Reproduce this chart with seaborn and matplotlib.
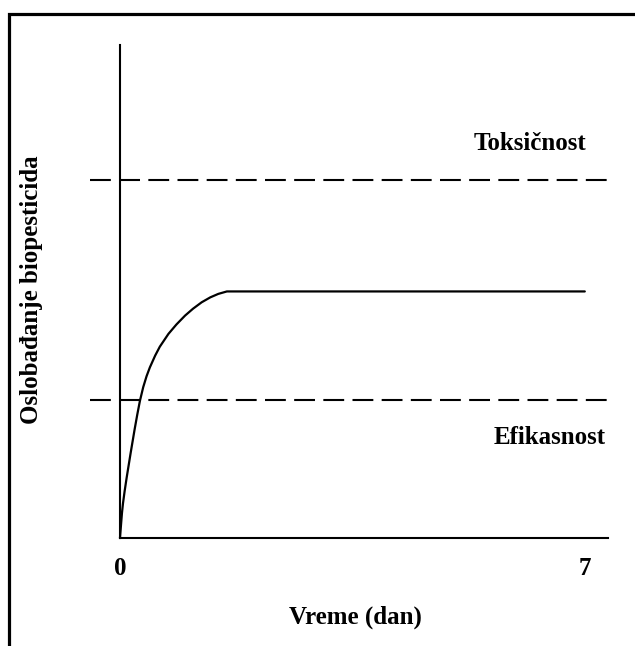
import matplotlib
matplotlib.use("Agg")
import matplotlib.pyplot as plt
import seaborn as sns
from matplotlib.patches import Rectangle

# release curve (time in days, release in arbitrary units)
vreme = [0, 0.015, 0.03, 0.045, 0.07, 0.10, 0.16, 0.22, 0.26, 0.30, 0.35, 0.40,
         0.45, 0.53, 0.60, 0.73, 0.85, 0.98, 1.10, 1.23, 1.36, 1.48, 1.61, 7.0]
oslobadjanje = [0, 0.26, 0.51, 0.70, 0.95, 1.22, 1.72, 2.20, 2.50, 2.78, 3.06, 3.28,
                3.46, 3.70, 3.88, 4.14, 4.33, 4.51, 4.65, 4.78, 4.88, 4.95, 5.0, 5.0]

# threshold levels
toksicnost = 7.25
efikasnost = 2.8

x_ticks = [0, 7]
x_tick_labels = ["0", "7"]

sns.set_style("white")
plt.rcParams['font.family'] = ['Liberation Serif', 'DejaVu Serif']
plt.rcParams['text.color'] = 'black'
plt.rcParams['axes.labelcolor'] = 'black'
plt.rcParams['xtick.color'] = 'black'

fig = plt.figure(figsize=(6.35, 6.46), dpi=100)
ax = fig.add_axes([0, 0, 1, 1])

sns.lineplot(x=vreme, y=oslobadjanje, color="black", linewidth=1.6, ax=ax,
             estimator=None, sort=False)

# dashed lines for toxicity and efficacy
ax.hlines([toksicnost, efikasnost], -0.45, 7.33, colors="black",
          linewidth=1.5, linestyles=(0, (10, 4)))

ax.set_xlim(-1.807, 7.756)
ax.set_ylim(-2.19, 10.91)

# axes drawn as spines through the origin
for s in ["top", "right"]:
    ax.spines[s].set_visible(False)
ax.spines["left"].set_position(("data", 0))
ax.spines["bottom"].set_position(("data", 0))
ax.spines["left"].set_bounds(0, 10)
ax.spines["bottom"].set_bounds(0, 7.35)
for s in ["left", "bottom"]:
    ax.spines[s].set_linewidth(1.5)
    ax.spines[s].set_color("black")

fs = 18
ax.set_xticks(x_ticks)
ax.set_xticklabels(x_tick_labels, fontsize=fs, fontweight="bold")
ax.set_yticks([])
ax.tick_params(axis="x", length=0, pad=14)

ax.set_xlabel("Vreme (dan)", fontsize=fs, fontweight="bold")
ax.xaxis.set_label_coords(0.559, 0.063)
ax.set_ylabel("Oslobađanje biopesticida", fontsize=fs, fontweight="bold")
ax.yaxis.set_label_coords(0.068, 0.551)

ax.text(6.18, toksicnost + 0.75, "Toksičnost", fontsize=fs, fontweight="bold",
        ha="center", va="center")
ax.text(6.47, efikasnost - 0.77, "Efikasnost", fontsize=fs, fontweight="bold",
        ha="center", va="center")

# outer frame around the figure (right and bottom are cut off)
fig.patches.append(Rectangle((9 / 635, -0.05), 1.1, 1.05 - 14 / 646,
                             transform=fig.transFigure, fill=False,
                             edgecolor="black", linewidth=2.3))

fig.savefig("out.png", dpi=100)
